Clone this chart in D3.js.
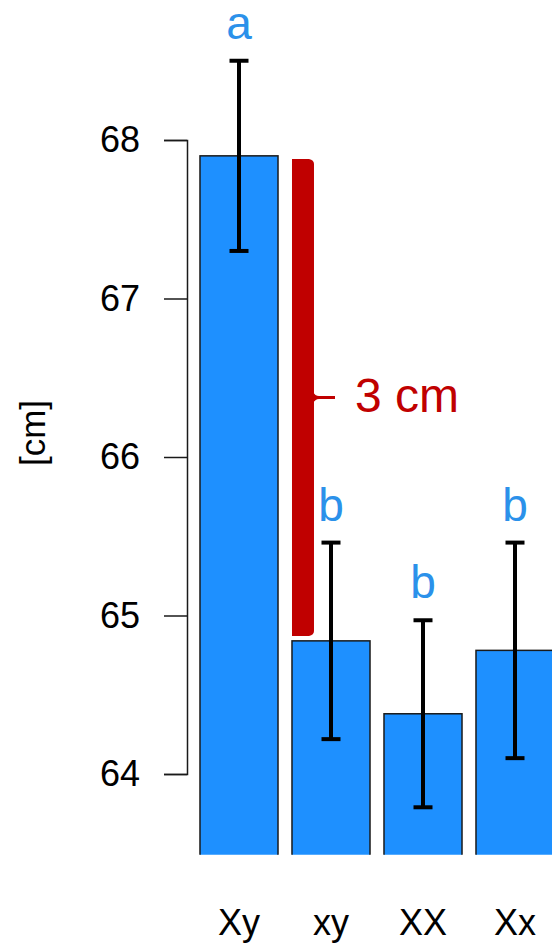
<!DOCTYPE html>
<html>
<head>
<meta charset="utf-8">
<script src="https://cdn.jsdelivr.net/npm/d3@7"></script>
<style>
  body { margin: 0; background: #fff; }
  svg { display: block; font-family: "Liberation Sans", Arial, sans-serif; }
</style>
</head>
<body>
<svg id="chart" width="552" height="947"></svg>
<script>
// data
const categories = ["Xy", "xy", "XX", "Xx"];
const means = [67.9, 64.84, 64.38, 64.78];
const errors = [0.6, 0.62, 0.59, 0.68];
const letters = ["a", "b", "b", "b"];
const yTicks = [64, 65, 66, 67, 68];
const bracketRange = [67.88, 64.87];   // the "3 cm" difference
const bracketLabel = "3 cm";
const yLabel = "[cm]";

const svg = d3.select("#chart");
const width = 552, height = 947;

const y = d3.scaleLinear().domain([64, 68]).range([774, 140]);
const yFloor = 63.49; // bottom of plot region

const x = d3.scaleBand()
    .domain(categories)
    .range([193, 561])
    .paddingInner(0.152)
    .paddingOuter(0.076);

const blue = "#1E90FF";
const red = "#c00000";

// clip bars at plot bottom
svg.append("defs").append("clipPath").attr("id", "plotclip")
  .append("rect")
    .attr("x", 0).attr("y", 0)
    .attr("width", width).attr("height", y(yFloor));

const data = categories.map((c, i) => ({ cat: c, mean: means[i], err: errors[i], letter: letters[i] }));

// bars
svg.append("g").attr("clip-path", "url(#plotclip)")
  .selectAll("rect")
  .data(data)
  .enter()
  .append("rect")
    .attr("x", d => x(d.cat))
    .attr("y", d => y(d.mean))
    .attr("width", x.bandwidth())
    .attr("height", d => y(yFloor - 0.1) - y(d.mean))
    .attr("fill", blue)
    .attr("stroke", "#1a1a1a")
    .attr("stroke-width", 1.5);

// error bars
const eb = svg.append("g").attr("stroke", "#000").attr("stroke-width", 4);
data.forEach(d => {
    const cx = x(d.cat) + x.bandwidth() / 2;
    eb.append("line")
        .attr("x1", cx).attr("x2", cx)
        .attr("y1", y(d.mean + d.err)).attr("y2", y(d.mean - d.err));
    [d.mean + d.err, d.mean - d.err].forEach(v => {
        eb.append("line")
            .attr("x1", cx - 9.5).attr("x2", cx + 9.5)
            .attr("y1", y(v)).attr("y2", y(v));
    });
});

// significance letters
svg.append("g")
  .selectAll("text")
  .data(data)
  .enter()
  .append("text")
    .attr("x", d => x(d.cat) + x.bandwidth() / 2)
    .attr("y", d => y(d.mean + d.err) - 22)
    .attr("text-anchor", "middle")
    .attr("font-size", 46)
    .attr("fill", "#2b91ea")
    .text(d => d.letter);

// y axis
const yAxis = svg.append("g")
    .attr("transform", "translate(187,0)")
    .call(d3.axisLeft(y).tickValues(yTicks).tickSize(23).tickPadding(24).tickFormat(d3.format("d")));
yAxis.select(".domain").attr("stroke", "#1a1a1a").attr("stroke-width", 1.5);
yAxis.selectAll(".tick line").attr("stroke", "#1a1a1a").attr("stroke-width", 1.5);
yAxis.selectAll(".tick text")
    .attr("font-size", 36)
    .attr("font-family", "Liberation Sans, Arial, sans-serif")
    .attr("fill", "#000");

// y label
svg.append("text")
    .attr("transform", "translate(45,433) rotate(-90)")
    .attr("text-anchor", "middle")
    .attr("font-size", 35)
    .attr("fill", "#000")
    .text(yLabel);

// x category labels
svg.append("g")
  .selectAll("text")
  .data(categories)
  .enter()
  .append("text")
    .attr("x", d => x(d) + x.bandwidth() / 2)
    .attr("y", 935)
    .attr("text-anchor", "middle")
    .attr("font-size", 36)
    .attr("fill", "#000")
    .text(d => d);

// red brace showing the difference
const bx0 = x(categories[1]);
const bx1 = bx0 + 22;
const bt = y(bracketRange[0]);
const bb = y(bracketRange[1]);
const bm = (bt + bb) / 2;
const r = 5;
const brace = d3.path();
brace.moveTo(bx0, bt);
brace.lineTo(bx1 - r, bt);
brace.quadraticCurveTo(bx1, bt + 1, bx1, bt + r);
brace.lineTo(bx1, bb - r);
brace.quadraticCurveTo(bx1, bb - 1, bx1 - r, bb);
brace.lineTo(bx0, bb);
brace.closePath();
svg.append("path").attr("d", brace.toString()).attr("fill", red);

const tick = d3.path();
tick.moveTo(bx1 - 1, bm - 6);
tick.quadraticCurveTo(bx1 + 1, bm - 1.5, bx1 + 5, bm - 1.5);
tick.lineTo(bx1 + 21, bm - 1.5);
tick.lineTo(bx1 + 21, bm + 1.5);
tick.lineTo(bx1 + 5, bm + 1.5);
tick.quadraticCurveTo(bx1 + 1, bm + 1.5, bx1 - 1, bm + 6);
tick.closePath();
svg.append("path").attr("d", tick.toString()).attr("fill", red);

svg.append("text")
    .attr("x", bx1 + 41)
    .attr("y", bm + 14)
    .attr("font-size", 48)
    .attr("fill", red)
    .text(bracketLabel);
</script>
</body>
</html>
